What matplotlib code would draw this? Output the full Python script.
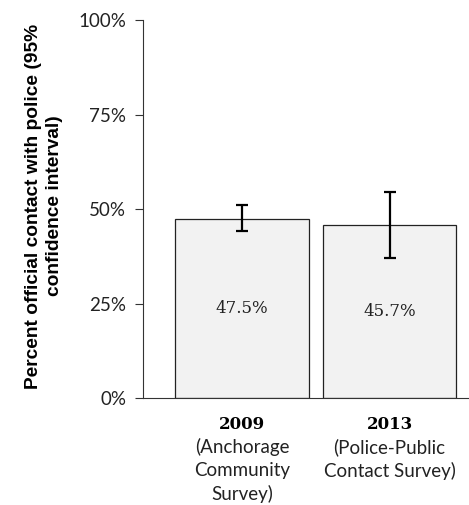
import matplotlib
matplotlib.use("Agg")
import matplotlib.pyplot as plt
from matplotlib.ticker import FuncFormatter

# Datos
years = ["2009", "2013"]
surveys = ["(Anchorage\nCommunity\nSurvey)", "(Police-Public\nContact Survey)"]
values = [47.5, 45.7]
ci_low = [44.3, 37.1]
ci_high = [51.1, 54.4]
yticks = [0, 25, 50, 75, 100]

fig = plt.figure(figsize=(4.69, 5.05), dpi=100)
ax = fig.add_axes([0.305, 0.212, 0.695, 0.748])

x = list(range(len(values)))
err = [[v - lo for v, lo in zip(values, ci_low)],
       [hi - v for v, hi in zip(values, ci_high)]]
ax.bar(x, values, width=0.908, color="#f2f2f2", edgecolor="#222222", linewidth=0.9)
ax.errorbar(x, values, yerr=err, fmt="none", ecolor="black", elinewidth=1.6,
            capsize=4, capthick=1.6)

for xi, v in zip(x, values):
    ax.text(xi, v / 2, f"{v:.1f}%", ha="center", va="center",
            fontsize=12, family="DejaVu Serif", color="#222222")

ax.set_xlim(-0.671, 1.539)
ax.set_ylim(0, 100)
ax.set_yticks(yticks)
ax.yaxis.set_major_formatter(FuncFormatter(lambda v, p: f"{v:.0f}%"))
for lab in ax.get_yticklabels():
    lab.set_family("Lato")
    lab.set_fontsize(13.5)
    lab.set_color("#222222")
ax.tick_params(axis="y", direction="out", length=6, width=0.8, color="#333333", pad=6)
ax.set_xticks([])

for s in ["top", "right"]:
    ax.spines[s].set_visible(False)
ax.spines["left"].set_color("#333333")
ax.spines["bottom"].set_color("#333333")

# Etiquetas de categoría: año en negrita + nombre de la encuesta
for xi, yr, sv in zip(x, years, surveys):
    ax.annotate(yr, xy=(xi, 0), xycoords=("data", "axes fraction"),
                xytext=(0, -27), textcoords="offset pixels",
                ha="center", va="center", fontsize=12, fontweight="bold",
                family="DejaVu Serif")
    ax.annotate(sv, xy=(xi, 0), xycoords=("data", "axes fraction"),
                xytext=(0, -40), textcoords="offset pixels",
                ha="center", va="top", fontsize=13.5, family="Lato",
                linespacing=1.4, color="#222222")

fig.text(0.094, 0.592, "Percent official contact with police (95%\nconfidence interval)",
         rotation=90, ha="center", va="center", fontsize=13.8, fontweight="bold",
         family="Liberation Sans", linespacing=1.25)

fig.savefig("out.png", dpi=100)
